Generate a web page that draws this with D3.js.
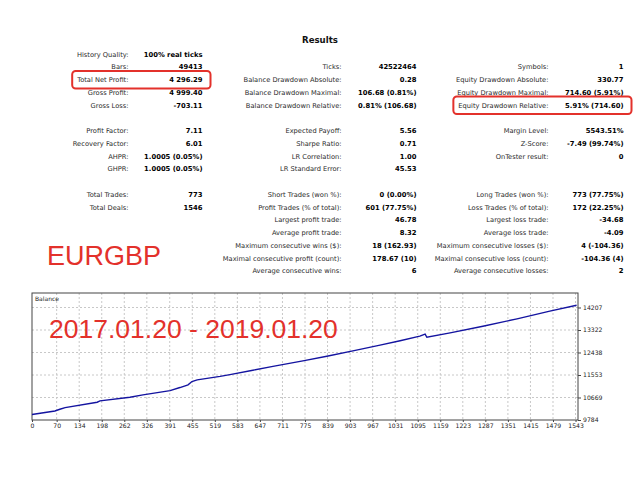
<!DOCTYPE html>
<html>
<head>
<meta charset="utf-8">
<script src="https://cdn.jsdelivr.net/npm/d3@7"></script>
<style>
  html, body { margin: 0; padding: 0; background: #fff; }
  svg { display: block; }
</style>
</head>
<body>
<div id="chart"></div>
<script>
// ===== report table =====
var col1Rows   = [0, 1, 2, 3, 4, 6, 7, 8, 9, 11, 12];
var col1Labels = ["History Quality:", "Bars:", "Total Net Profit:", "Gross Profit:", "Gross Loss:",
                  "Profit Factor:", "Recovery Factor:", "AHPR:", "GHPR:", "Total Trades:", "Total Deals:"];
var col1Values = ["100% real ticks", "49413", "4 296.29", "4 999.40", "-703.11",
                  "7.11", "6.01", "1.0005 (0.05%)", "1.0005 (0.05%)", "773", "1546"];

var col2Rows   = [1, 2, 3, 4, 6, 7, 8, 9, 11, 12, 13, 14, 15, 16, 17];
var col2Labels = ["Ticks:", "Balance Drawdown Absolute:", "Balance Drawdown Maximal:", "Balance Drawdown Relative:",
                  "Expected Payoff:", "Sharpe Ratio:", "LR Correlation:", "LR Standard Error:",
                  "Short Trades (won %):", "Profit Trades (% of total):", "Largest profit trade:",
                  "Average profit trade:", "Maximum consecutive wins ($):", "Maximal consecutive profit (count):",
                  "Average consecutive wins:"];
var col2Values = ["42522464", "0.28", "106.68 (0.81%)", "0.81% (106.68)",
                  "5.56", "0.71", "1.00", "45.53",
                  "0 (0.00%)", "601 (77.75%)", "46.78", "8.32", "18 (162.93)", "178.67 (10)", "6"];

var col3Rows   = [1, 2, 3, 4, 6, 7, 8, 11, 12, 13, 14, 15, 16, 17];
var col3Labels = ["Symbols:", "Equity Drawdown Absolute:", "Equity Drawdown Maximal:", "Equity Drawdown Relative:",
                  "Margin Level:", "Z-Score:", "OnTester result:",
                  "Long Trades (won %):", "Loss Trades (% of total):", "Largest loss trade:",
                  "Average loss trade:", "Maximum consecutive losses ($):", "Maximal consecutive loss (count):",
                  "Average consecutive losses:"];
var col3Values = ["1", "330.77", "714.60 (5.91%)", "5.91% (714.60)",
                  "5543.51%", "-7.49 (99.74%)", "0",
                  "773 (77.75%)", "172 (22.25%)", "-34.68", "-4.09", "4 (-104.36)", "-104.36 (4)", "2"];

// highlighted cells: [column, row]
var highlights = [[0, 2], [2, 4]];

// ===== balance curve =====
var deals   = [0, 65, 79, 94, 185, 193, 278, 315, 392, 420, 443, 454, 469, 534, 562, 627, 684,
               769, 837, 911, 988, 1045, 1101, 1116, 1121, 1187, 1280, 1377, 1470, 1546];
var balance = [10000, 10140, 10207, 10270, 10483, 10535, 10681, 10772, 10941, 11060, 11166, 11297, 11364,
               11500, 11570, 11740, 11890, 12110, 12290, 12500, 12730, 12900, 13080, 13160, 13035,
               13209, 13469, 13762, 14062, 14296];
var xTicks = [0, 70, 134, 198, 262, 326, 391, 455, 519, 583, 647, 711, 775, 839, 903, 967,
              1031, 1095, 1159, 1223, 1287, 1351, 1415, 1479, 1543];
var yTicks = [9784, 10669, 11553, 12438, 13322, 14207];

var W = 640, H = 480;
var svg = d3.select("#chart").append("svg")
    .attr("width", W)
    .attr("height", H)

svg.append("rect").attr("width", W).attr("height", H).attr("fill", "#fff")

var FONT = "'DejaVu Sans', Verdana, sans-serif"
var red = "#e3312b"

// title
svg.append("text")
    .text("Results")
    .attr("x", 320)
    .attr("y", 43)
    .attr("text-anchor", "middle")
    .attr("font-family", FONT)
    .attr("font-size", "8.6px")
    .attr("font-weight", "bold")
    .attr("fill", "#111")

// row layout
var rowY = function(r){ return 54 + r * 12.75 }
var columns = [
    {rows: col1Rows, labels: col1Labels, values: col1Values, labelRight: 128.5, valueRight: 202.5},
    {rows: col2Rows, labels: col2Labels, values: col2Values, labelRight: 341.5, valueRight: 416.5},
    {rows: col3Rows, labels: col3Labels, values: col3Values, labelRight: 548.5, valueRight: 623.5}
]

columns.forEach(function(col, ci){
    var g = svg.append("g")
    g.selectAll("text.lbl")
        .data(col.labels)
        .enter().append("text")
        .attr("class", "lbl c" + ci)
        .text(function(d){ return d })
        .attr("x", col.labelRight)
        .attr("y", function(d, i){ return rowY(col.rows[i]) + 2.5 })
        .attr("text-anchor", "end")
        .attr("font-family", FONT)
        .attr("font-size", "6.7px")
        .attr("fill", "#2a2a2a")
    g.selectAll("text.val")
        .data(col.values)
        .enter().append("text")
        .attr("class", "val")
        .text(function(d){ return d })
        .attr("x", col.valueRight)
        .attr("y", function(d, i){ return rowY(col.rows[i]) + 2.5 })
        .attr("text-anchor", "end")
        .attr("font-family", FONT)
        .attr("font-size", "6.8px")
        .attr("font-weight", "bold")
        .attr("fill", "#000")
})

// red boxes around the highlighted cells
highlights.forEach(function(h){
    var col = columns[h[0]]
    var idx = col.rows.indexOf(h[1])
    var lbl = svg.selectAll("text.c" + h[0]).nodes()[idx]
    var x0 = col.labelRight - lbl.getComputedTextLength() - 5
    var x1 = col.valueRight + 8
    svg.append("rect")
        .attr("x", x0)
        .attr("y", rowY(h[1]) - 8.5)
        .attr("width", x1 - x0)
        .attr("height", 17.5)
        .attr("rx", 3.5)
        .attr("fill", "none")
        .attr("stroke", red)
        .attr("stroke-width", 2)
})

// symbol
svg.append("text")
    .text("EURGBP")
    .attr("x", 47)
    .attr("y", 265)
    .attr("font-family", "'Liberation Sans', Arial, sans-serif")
    .attr("font-size", "27px")
    .attr("fill", red)

// ===== balance chart =====
var plotLeft = 32, plotRight = 578, plotTop = 293, plotBottom = 420
var x = d3.scaleLinear().domain([0, 1550]).range([plotLeft, plotRight])
var y = d3.scaleLinear().domain([9784, 14777]).range([plotBottom, plotTop])

var chart = svg.append("g")

// grid
chart.selectAll("line.vgrid")
    .data(xTicks.slice(1))
    .enter().append("line")
    .attr("x1", function(d){ return x(d) })
    .attr("x2", function(d){ return x(d) })
    .attr("y1", plotTop)
    .attr("y2", plotBottom)
    .attr("stroke", "#c8c8c8")
    .attr("stroke-dasharray", "2,2")
chart.selectAll("line.hgrid")
    .data(yTicks.slice(1))
    .enter().append("line")
    .attr("x1", plotLeft)
    .attr("x2", plotRight)
    .attr("y1", function(d){ return y(d) })
    .attr("y2", function(d){ return y(d) })
    .attr("stroke", "#c8c8c8")
    .attr("stroke-dasharray", "2,2")

// axes
var xAxis = d3.axisBottom(x).tickValues(xTicks).tickFormat(d3.format("d")).tickSize(2).tickPadding(2)
var yAxis = d3.axisRight(y).tickValues(yTicks).tickFormat(d3.format("d")).tickSize(3).tickPadding(2)

var gx = chart.append("g").attr("transform", "translate(0," + plotBottom + ")").call(xAxis)
var gy = chart.append("g").attr("transform", "translate(" + plotRight + ",0)").call(yAxis)
;[gx, gy].forEach(function(g){
    g.select(".domain").remove()
    g.selectAll("line").attr("stroke", "#444")
    g.selectAll("text")
        .attr("font-family", FONT)
        .attr("font-size", "6.1px")
        .attr("fill", "#222")
})

// frame
chart.append("rect")
    .attr("x", plotLeft)
    .attr("y", plotTop)
    .attr("width", plotRight - plotLeft)
    .attr("height", plotBottom - plotTop)
    .attr("fill", "none")
    .attr("stroke", "#444")
    .attr("stroke-width", 1)

chart.append("text")
    .text("Balance")
    .attr("x", plotLeft + 3)
    .attr("y", plotTop + 8)
    .attr("font-family", FONT)
    .attr("font-size", "6px")
    .attr("fill", "#222")

// date range overlay
chart.append("text")
    .text("2017.01.20 - 2019.01.20")
    .attr("x", 49)
    .attr("y", 338)
    .attr("font-family", "'Liberation Sans', Arial, sans-serif")
    .attr("font-size", "26.5px")
    .attr("fill", red)

var balanceLine = d3.line()
    .x(function(d, i){ return x(deals[i]) })
    .y(function(d){ return y(d) })

chart.append("path")
    .datum(balance)
    .attr("d", balanceLine)
    .attr("fill", "none")
    .attr("stroke", "#1414a0")
    .attr("stroke-width", 1.4)
</script>
</body>
</html>
